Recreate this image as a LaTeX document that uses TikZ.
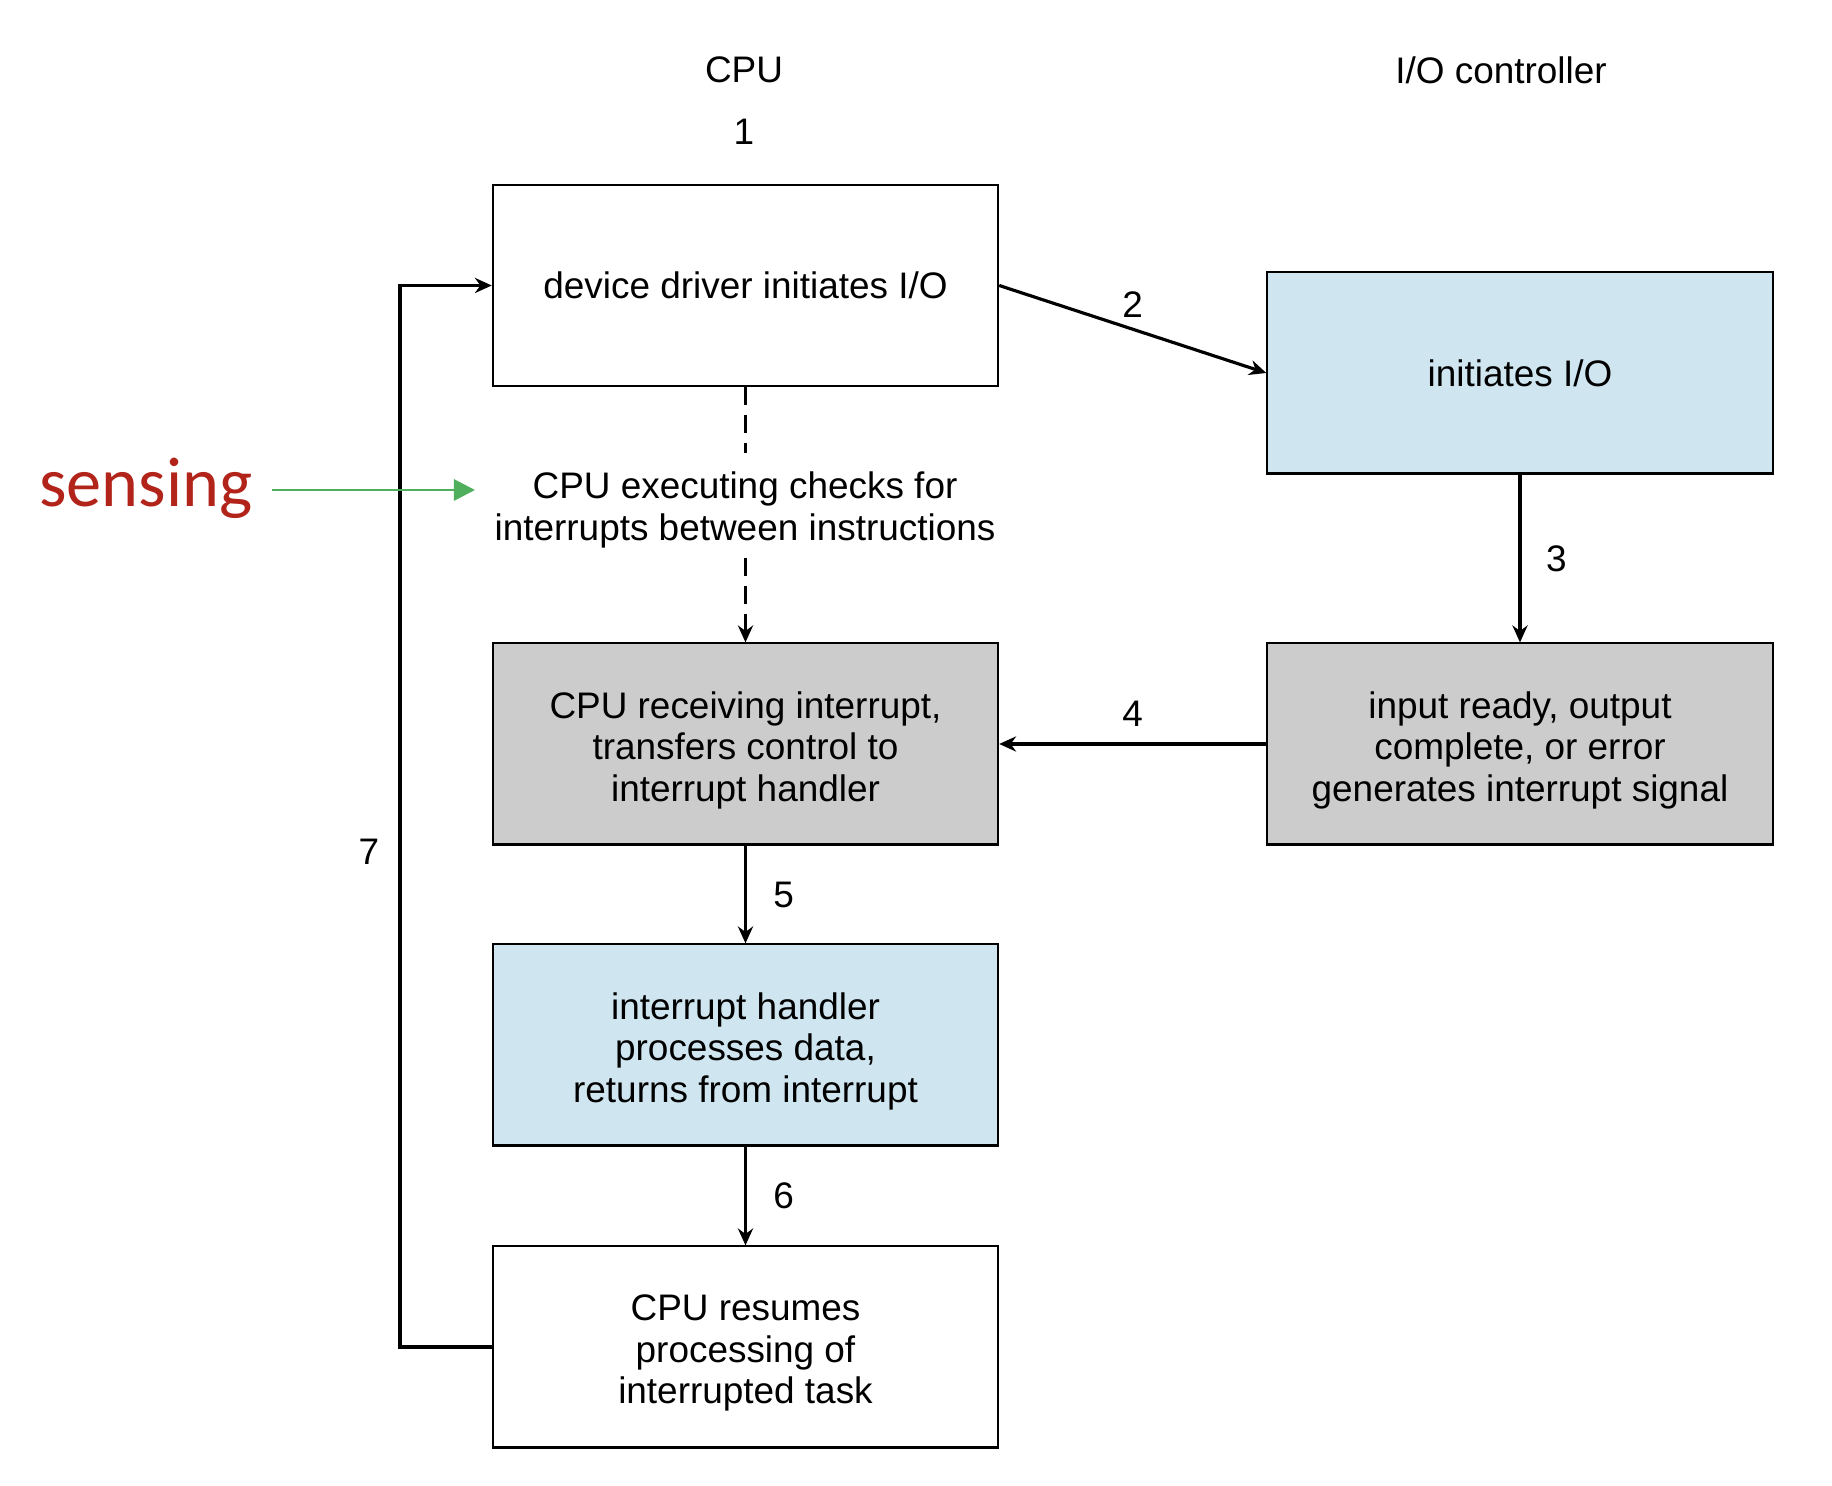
\documentclass[tikz,border=0pt]{standalone}
\usepackage{fontspec}
\setmainfont{Liberation Sans}
\newfontfamily\sensefont{Carlito}
\usetikzlibrary{arrows.meta}
\definecolor{boxblue}{HTML}{CFE5EF}
\definecolor{boxgray}{HTML}{CCCCCC}
\definecolor{senseRed}{HTML}{B2241A}
\definecolor{senseGreen}{HTML}{4FAF5C}
\tikzset{
	stepbox/.style={shape=rectangle, draw, line width=0.6pt, minimum width=5.05cm, minimum height=2.01cm, align=center, font=\fontsize{10.5}{11.8}\selectfont},
	boxtext/.style={font=\fontsize{10.5}{11.8}\selectfont, align=center, inner sep=0pt, yshift=-1.8pt},
	lbl/.style={font=\fontsize{10.5}{11.8}\selectfont, inner sep=0pt},
	flow/.style={line width=0.9pt, -{Stealth[length=4.8pt, width=4.3pt]}}
}
\begin{document}
\begin{tikzpicture}[x=0.01cm, y=-0.01cm]
	\useasboundingbox (0,0) rectangle (1832,1486);
	% Paths, nodes and wires:
	\node[lbl] (cpu) at (744, 70){CPU};
	\node[lbl] (ioc) at (1501, 70){I/O controller};
	\node[lbl] (n1) at (744, 132){1};
	\node[stepbox, fill=white] (drv) at (745.5, 285.5){device driver initiates I/O};
	\node[stepbox, fill=boxblue] (init) at (1520, 373){initiates I/O};
	\node[lbl, align=center] (chk) at (745, 510){CPU executing checks for\\interrupts between instructions};
	\node[stepbox, fill=boxgray, label={[boxtext]center:{CPU receiving interrupt,\\transfers control to\\interrupt handler}}] (recv) at (745.5, 744){};
	\node[stepbox, fill=boxgray, label={[boxtext]center:{input ready, output\\complete, or error\\generates interrupt signal}}] (rdy) at (1520, 744){};
	\node[stepbox, fill=boxblue, label={[boxtext]center:{interrupt handler\\processes data,\\returns from interrupt}}] (hdl) at (745.5, 1045){};
	\node[stepbox, fill=white, label={[boxtext]center:{CPU resumes\\processing of\\interrupted task}}] (res) at (745.5, 1347){};
	\node[text=senseRed, font=\sensefont\fontsize{20}{24}\selectfont, inner sep=0pt] (sense) at (146, 488){sensing};
	\coordinate (loopTop) at (400, 285.5);
	\coordinate (loopBot) at (400, 1347);
	\coordinate (senseTip) at (475, 490);
	\coordinate (dashA) at (745.5, 453);
	\coordinate (dashB) at (745.5, 558);
	% loop 7
	\draw[flow] (res.west) -- (loopBot) -- (loopTop) -- (drv.west);
	\node[lbl] (n7) at (369, 852){7};
	% 2 .. 6
	\draw[flow] (drv.east) -- (init.west) node[lbl, pos=0.5, above=3pt]{2};
	\draw[flow] (init.south) -- (rdy.north) node[lbl, pos=0.5, right=7pt]{3};
	\draw[flow] (rdy.west) -- (recv.east) node[lbl, pos=0.5, above=4.5pt]{4};
	\draw[flow] (recv.south) -- (hdl.north) node[lbl, pos=0.5, right=7.5pt]{5};
	\draw[flow] (hdl.south) -- (res.north) node[lbl, pos=0.5, right=7.5pt]{6};
	% dashed checks
	\draw[line width=0.9pt, dash pattern=on 5pt off 3pt] (drv.south) -- (dashA);
	\draw[flow, dash pattern=on 5pt off 3pt] (dashB) -- (recv.north);
	\draw[senseGreen, line width=0.8pt, -{Triangle[length=6pt, width=6pt]}] ([xshift=5.4pt]sense.east |- senseTip) -- (senseTip);
\end{tikzpicture}
\end{document}
